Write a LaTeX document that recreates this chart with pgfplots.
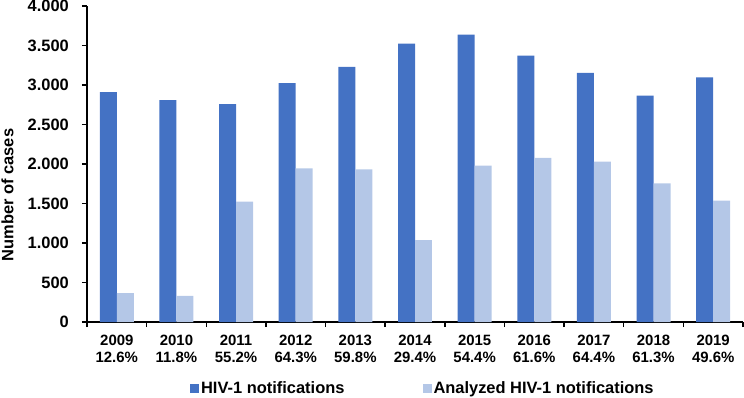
\documentclass[border=0pt]{standalone}
\usepackage{pgfplots}
\pgfplotsset{compat=1.18}
\usepackage{fontspec}
\setmainfont{Liberation Sans}
\definecolor{hivdark}{HTML}{4472C4}
\definecolor{hivlight}{HTML}{B4C7E7}

\begin{document}
\begin{tikzpicture}
\begin{axis}[
  scale only axis,
  width=656bp, height=316bp,
  xmin=-0.5, xmax=10.5,
  ymin=0, ymax=4000,
  ybar=0pt, bar width=0.285,
  axis x line*=bottom, axis y line*=left,
  axis line style={-, black, line width=1.5bp},
  tick align=outside,
  major tick length=5bp,
  tick style={black, line width=1.5bp},
  ytick={0,500,...,4000},
  /pgf/number format/1000 sep={.},
  /pgf/number format/assume math mode=true,
  xtick={-0.5,0.5,...,10.5},
  x tick label as interval,
  xticklabels={{2009\\12.6\%},{2010\\11.8\%},{2011\\55.2\%},{2012\\64.3\%},
    {2013\\59.8\%},{2014\\29.4\%},{2015\\54.4\%},{2016\\61.6\%},
    {2017\\64.4\%},{2018\\61.3\%},{2019\\49.6\%}},
  xticklabel style={align=center, anchor=north, inner ysep=0pt, yshift=-8bp,
    font=\fontsize{15}{17}\selectfont\bfseries},
  yticklabel style={anchor=east, inner xsep=0pt, xshift=-13bp,
    font=\fontsize{16.5}{18}\selectfont\bfseries},
  ylabel={Number of cases},
  ylabel style={at={(axis description cs:-0.121,0.402)}, anchor=center,
    font=\fontsize{16.5}{19}\selectfont\bfseries},
  legend columns=2,
  legend style={at={(axis description cs:0.512,-0.209)}, anchor=center,
    draw=none, fill=none, font=\fontsize{16.5}{19}\selectfont\bfseries,
    nodes={inner xsep=2bp},
    /tikz/every even column/.append style={column sep=76bp}},
  legend image code/.code={\fill[#1] (0bp,-4.5bp) rectangle (9bp,4.5bp);},
]
\addplot[fill=hivdark, draw=none] coordinates {
  (0,2911) (1,2810) (2,2759) (3,3025) (4,3228) (5,3523)
  (6,3637) (7,3371) (8,3152) (9,2865) (10,3097)};
\addplot[fill=hivlight, draw=none] coordinates {
  (0,367) (1,332) (2,1523) (3,1945) (4,1932) (5,1036)
  (6,1979) (7,2077) (8,2030) (9,1756) (10,1536)};
\legend{HIV-1 notifications, Analyzed HIV-1 notifications}
\end{axis}
\pgfresetboundingbox
\useasboundingbox (-87bp,-76bp) rectangle (657bp,322bp);
\end{tikzpicture}
\end{document}
